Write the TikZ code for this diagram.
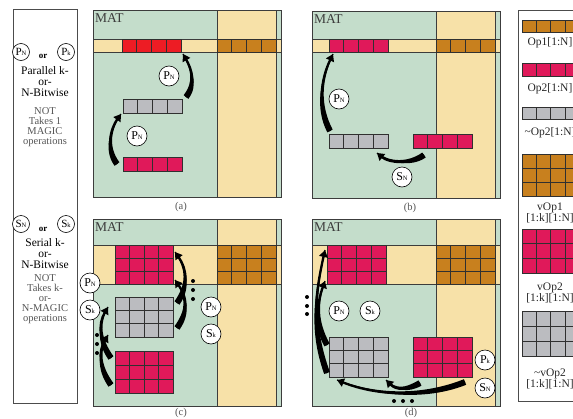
\documentclass[tikz,border=0pt]{standalone}
\usepackage{fontspec}
\setmainfont{Liberation Serif}
\usetikzlibrary{arrows.meta,calc}
\definecolor{matgreen}{HTML}{C4DDCB}
\definecolor{matyellow}{HTML}{F7E1A8}
\definecolor{opred}{HTML}{ED1C24}
\definecolor{opcrim}{HTML}{E0195A}
\definecolor{oporange}{HTML}{C8801E}
\definecolor{opgray}{HTML}{BBBCC0}
\definecolor{edgegray}{HTML}{3C3C3C}
\definecolor{notetext}{HTML}{555555}
\tikzset{
  panelline/.style={draw=edgegray, line width=0.7pt},
  cellline/.style={draw=edgegray!80!black, line width=0.8pt},
  mattext/.style={inner sep=0pt, text=edgegray, font=\fontsize{13.5}{13.5}\selectfont},
  opcircle/.style={circle, draw=black, fill=white, line width=0.6pt, minimum size=20pt, inner sep=0pt, font=\fontsize{12}{12}\selectfont},
  smallcircle/.style={opcircle, minimum size=17pt, font=\fontsize{11}{11}\selectfont},
  captext/.style={text=notetext, inner sep=0pt, font=\fontsize{10.5}{10.5}\selectfont},
  legtext/.style={text=black!85, inner sep=0pt, align=center, font=\fontsize{11.5}{11}\selectfont},
  sidetext/.style={text=black, inner sep=0pt, align=center, font=\fontsize{11.5}{11}\selectfont},
  notetextstyle/.style={text=notetext, inner sep=0pt, align=center, font=\fontsize{10.5}{10}\selectfont},
  dotmark/.style={fill=black},
}
\newcommand{\opsym}[2]{#1{\fontsize{6.5}{6.5}\selectfont #2}}
\newcommand{\matpanel}[5]{%
  \fill[matgreen] (#1,#2) rectangle ++(188,187);
  \fill[matyellow] ({#1+124},#2) rectangle ++(59,187);
  \fill[matyellow] (#1,#3) rectangle ({#1+188},#4);
  \draw[panelline] (#1,#2) rectangle ++(188,187);
  \draw[panelline] ({#1+124},#2) -- ++(0,187) ({#1+183},#2) -- ++(0,187);
  \draw[panelline] (#1,#3) -- ({#1+188},#3) (#1,#4) -- ({#1+188},#4);
  \node[mattext, anchor=north west] (#5) at ({#1+2},{#2+3}) {MAT};
}
\newcommand{\mycells}[7]{%
  \foreach \gi in {1,...,#3}{\foreach \gj in {1,...,#4}{%
    \draw[cellline, fill=#7] ({#1+(\gi-1)*#5},{#2+(\gj-1)*#6}) rectangle ++(#5,#6);}}}
\newcommand{\fatarrow}[4]{%
  \path ($(#1)+(#2)$) coordinate (fa1) ($(#4)+(#3)$) coordinate (fa2);
  \fill ($(#1)!3pt!90:(fa1)$) .. controls ($(fa1)!3pt!-90:(#1)$) and ($(fa2)!0.6pt!90:(#4)$) .. ($(#4)!0.6pt!-90:(fa2)$)
     -- ($(#4)!0.6pt!90:(fa2)$) .. controls ($(fa2)!0.6pt!-90:(#4)$) and ($(fa1)!3pt!90:(#1)$) .. ($(#1)!3pt!-90:(fa1)$) -- cycle;
  \draw[line width=2.3pt, -{Triangle[width=8.5pt,length=7pt]}] (#1) .. controls (fa1) and (fa2) .. (#4);
}
\begin{document}
\begin{tikzpicture}[x=1pt,y=-1pt]
\useasboundingbox (0,0) rectangle (573,418);

% ---------- left explanation panel
\draw[draw=black!70, line width=0.7pt] (13,9) rectangle (77,403);
\node[smallcircle] (lpn) at (21,52) {\opsym{P}{N}};
\node[smallcircle] (lpk) at (66,52) {\opsym{P}{k}};
\node[inner sep=0pt, font=\fontsize{9}{9}\selectfont\bfseries] (lor1) at (43,56) {or};
\node[sidetext] (lpar) at (45,82) {Parallel k-\\or-\\N-Bitwise};
\node[notetextstyle] (lnot1) at (45,127) {NOT\\Takes 1\\MAGIC\\operations};
\node[smallcircle] (lsn) at (21,224) {\opsym{S}{N}};
\node[smallcircle] (lsk) at (66,224) {\opsym{S}{k}};
\node[inner sep=0pt, font=\fontsize{9}{9}\selectfont\bfseries] (lor2) at (43,229) {or};
\node[sidetext] (lser) at (45,253.5) {Serial k-\\or-\\N-Bitwise};
\node[notetextstyle] (lnot2) at (45,299) {NOT\\Takes k-\\or-\\N-MAGIC\\operations};

% ---------- panel (a)
\matpanel{93}{10}{39}{52}{mata}
\mycells{122}{39}{4}{1}{14.75}{13}{opred}
\mycells{217}{39}{4}{1}{14.75}{13}{oporange}
\mycells{123}{99}{4}{1}{14.75}{14}{opgray}
\mycells{123}{157}{4}{1}{14.75}{14}{opcrim}
\coordinate (a1t) at (117,164); \coordinate (a1h) at (121,114);
\coordinate (a2t) at (186,97);  \coordinate (a2h) at (183,54);
\fatarrow{a1t}{-12,-16}{-10,14}{a1h}
\fatarrow{a2t}{11,-14}{8,14}{a2h}
\node[opcircle] (apn1) at (137,136) {\opsym{P}{N}};
\node[opcircle] (apn2) at (169,76) {\opsym{P}{N}};
\node[captext] (capa) at (181,207) {(a)};

% ---------- panel (b)
\matpanel{312}{11}{39}{52}{matb}
\mycells{329}{39}{4}{1}{14.75}{13}{opcrim}
\mycells{436}{39}{4}{1}{14.75}{13}{oporange}
\mycells{329}{134}{4}{1}{14.75}{14}{opgray}
\mycells{413}{134}{4}{1}{14.75}{14}{opcrim}
\coordinate (b1t) at (330,131); \coordinate (b1h) at (333,54);
\coordinate (b2t) at (424,155); \coordinate (b2h) at (377,153);
\fatarrow{b1t}{-13,-25}{-12,25}{b1h}
\fatarrow{b2t}{-14,10}{12,10}{b2h}
\node[opcircle] (bpn) at (339,99) {\opsym{P}{N}};
\node[opcircle] (bsn) at (402,177) {\opsym{S}{N}};
\node[captext] (capb) at (410,208) {(b)};

% ---------- panel (c)
\matpanel{93}{219}{245}{284}{matc}
\mycells{115}{245}{4}{3}{14.5}{13}{opcrim}
\mycells{217}{245}{4}{3}{14.75}{13}{oporange}
\mycells{115}{297}{4}{3}{14.5}{13.33}{opgray}
\mycells{115}{351}{4}{3}{14.5}{14}{opcrim}
\coordinate (c1t) at (177,303); \coordinate (c1h) at (175,252);
\coordinate (c2t) at (177,328); \coordinate (c2h) at (175,280);
\coordinate (c3t) at (111,358); \coordinate (c3h) at (108,307);
\coordinate (c4t) at (111,385); \coordinate (c4h) at (108,335);
\fatarrow{c1t}{12,-17}{12,17}{c1h}
\fatarrow{c2t}{12,-17}{12,17}{c2h}
\fatarrow{c3t}{-12,-17}{-10,17}{c3h}
\fatarrow{c4t}{-12,-17}{-10,17}{c4h}
\foreach \yy in {281,290,299} {\fill[dotmark] (193,\yy) circle (2);}
\foreach \yy in {335,344,353} {\fill[dotmark] (97,\yy) circle (2);}
\node[opcircle] (cpn1) at (90,283) {\opsym{P}{N}};
\node[opcircle] (csk1) at (90,310) {\opsym{S}{k}};
\node[opcircle] (cpn2) at (211,307) {\opsym{P}{N}};
\node[opcircle] (csk2) at (211,334) {\opsym{S}{k}};
\node[captext] (capc) at (181,413) {(c)};

% ---------- panel (d)
\matpanel{312}{219}{245}{284}{matd}
\mycells{327}{245}{4}{3}{14.75}{13}{opcrim}
\mycells{436}{245}{4}{3}{14.75}{13}{oporange}
\mycells{329}{337}{4}{3}{14.75}{13.33}{opgray}
\mycells{413}{337}{4}{3}{14.75}{13.33}{opcrim}
\coordinate (d1t) at (327,345); \coordinate (d1h) at (325,281);
\coordinate (d2t) at (327,373); \coordinate (d2h) at (325,250);
\coordinate (d3t) at (465,382); \coordinate (d3h) at (337,380);
\coordinate (d4t) at (420,383); \coordinate (d4h) at (386,380);
\fatarrow{d1t}{-12,-22}{-8,22}{d1h}
\fatarrow{d2t}{-16,-45}{-10,45}{d2h}
\fatarrow{d3t}{-40,16}{40,16}{d3h}
\fatarrow{d4t}{-14,8}{10,10}{d4h}
\foreach \yy in {297,306,314} {\fill[dotmark] (307,\yy) circle (2);}
\foreach \xx in {394,403,412} {\fill[dotmark] (\xx,401) circle (2);}
\node[opcircle] (dpn) at (339,311) {\opsym{P}{N}};
\node[opcircle] (dsk) at (370,311) {\opsym{S}{k}};
\node[opcircle] (dpk) at (485,360) {\opsym{P}{k}};
\node[opcircle] (dsn) at (485,388) {\opsym{S}{N}};
\node[captext] (capd) at (411,413) {(d)};

% ---------- legend
\draw[draw=black!70, line width=0.7pt] (518,10) rectangle (600,401);
\mycells{522}{20}{4}{1}{14.3}{12}{oporange}
\node[legtext] (lg1) at (550,43) {Op1[1:N]};
\mycells{522}{63}{4}{1}{14.3}{13}{opcrim}
\node[legtext] (lg2) at (550,89) {Op2[1:N]};
\mycells{522}{107}{4}{1}{14.3}{12}{opgray}
\node[legtext] (lg3) at (550,133) {\textasciitilde Op2[1:N]};
\mycells{522}{154}{4}{3}{14.3}{14}{oporange}
\node[legtext] (lg4) at (550,212.5) {vOp1\\{}[1:k][1:N]};
\mycells{522}{229}{4}{3}{14.3}{14.7}{opcrim}
\node[legtext] (lg5) at (550,293) {vOp2\\{}[1:k][1:N]};
\mycells{522}{311}{4}{3}{14.3}{15}{opgray}
\node[legtext] (lg6) at (550,378.5) {\textasciitilde vOp2\\{}[1:k][1:N]};
\end{tikzpicture}
\end{document}
